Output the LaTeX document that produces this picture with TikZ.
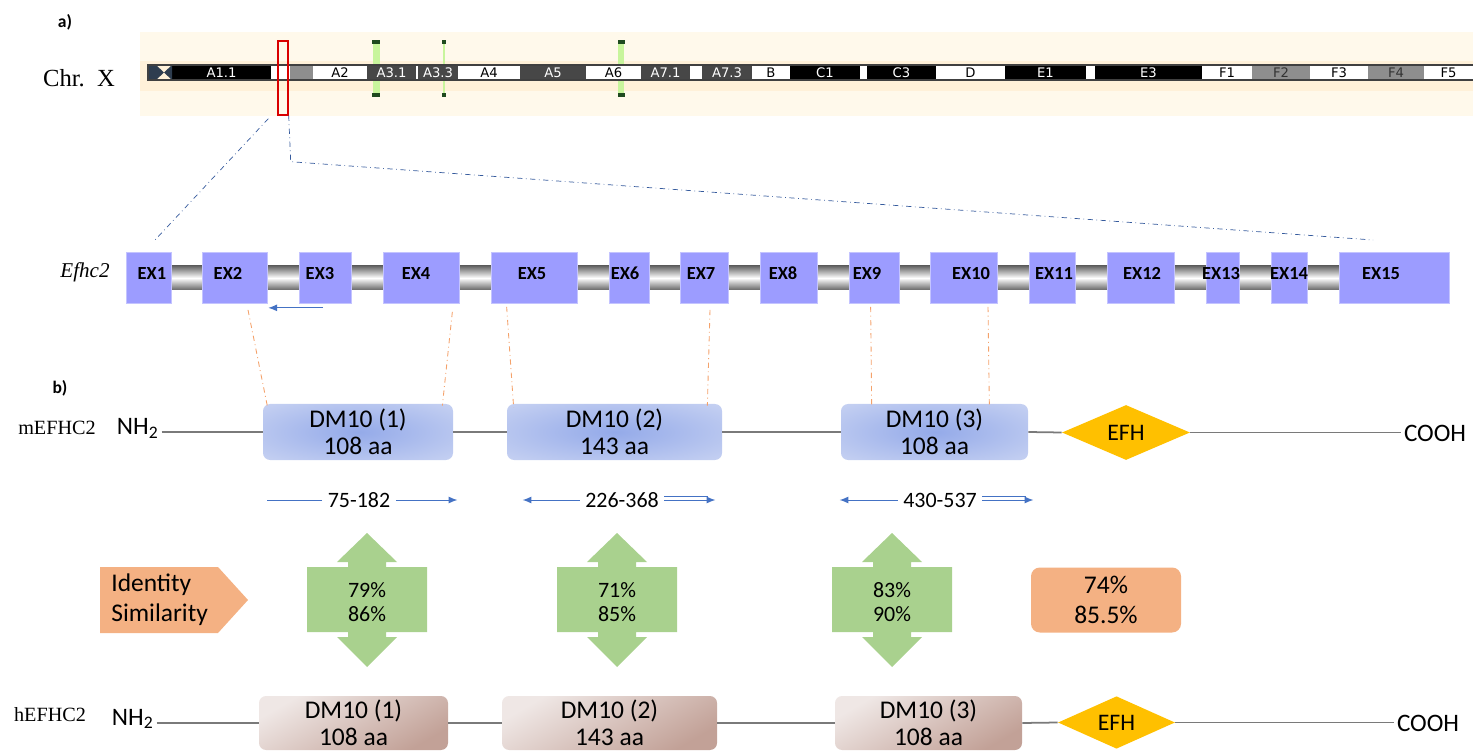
\documentclass[tikz,border=0pt]{standalone}
\usepackage{fontspec}
\setmainfont{Liberation Serif}
\newfontfamily\carl{Carlito}
\newfontfamily\dejav{DejaVu Sans}
\usepackage{tikz}
\usetikzlibrary{arrows.meta,calc,shapes.geometric}

\definecolor{cream}{HTML}{FFF9EB}
\definecolor{creamband}{HTML}{FFF1D9}
\definecolor{banddark}{HTML}{474747}
\definecolor{bandgray}{HTML}{8E8E8E}
\definecolor{cennavy}{HTML}{2E3D4F}
\definecolor{mkgreen}{HTML}{C8F59C}
\definecolor{mkdark}{HTML}{1F4A1F}
\definecolor{exonblue}{HTML}{9C9CFF}
\definecolor{arrblue}{HTML}{4472C4}
\definecolor{linkor}{HTML}{F4A26B}
\definecolor{peach}{HTML}{F4B183}
\definecolor{leaf}{HTML}{A9D18E}
\definecolor{gold}{HTML}{FFC000}
\definecolor{dminner}{HTML}{94AAE9}
\definecolor{dmouter}{HTML}{DDE3F6}
\definecolor{hlight}{HTML}{EFE7E5}
\definecolor{hdark}{HTML}{C2A197}
\definecolor{protgray}{HTML}{7A7A7A}
\pgfdeclareradialshading{dmshade}{\pgfpoint{0bp}{0bp}}{color(0bp)=(dminner); color(52bp)=(dmouter); color(75bp)=(dmouter)}

\begin{document}
\begin{tikzpicture}[x=0.02cm,y=-0.02cm,
  bandlab/.style={font=\dejav\fontsize{7.5}{8}\selectfont,inner sep=0},
  exonbox/.style={fill=exonblue,draw=exonblue!60!white,line width=0.4pt,minimum height=51*0.02cm,inner sep=0},
  exonlab/.style={font=\carl\bfseries\fontsize{10.5}{12}\selectfont,inner sep=0},
  dmbox/.style={rounded corners=4pt,inner sep=0,align=center,font=\carl\fontsize{14.5}{15.3}\selectfont},
  mbox/.style={dmbox,minimum height=56*0.02cm,shade,shading=dmshade},
  hbox/.style={dmbox,minimum height=54*0.02cm,shade,top color=hlight,bottom color=hdark,shading angle=30},
  efh/.style={diamond,fill=gold,inner sep=0,font=\carl\fontsize{13.5}{14}\selectfont},
  protlab/.style={font=\carl\fontsize{14.3}{16}\selectfont,inner sep=1.5pt},
  serlab/.style={font=\fontsize{11.5}{13}\selectfont},
  protline/.style={draw=protgray,line width=1pt},
  rangelab/.style={font=\carl\fontsize{12.5}{14}\selectfont,inner sep=3pt},
  rangearr/.style={draw=arrblue,line width=0.55pt},
  tip/.style={-{Latex[length=5pt,width=4pt]}},
  linkline/.style={draw=linkor,line width=0.5pt,dash dot},
  zoomline/.style={draw=arrblue!80!black,line width=0.4pt,dash dot},
  pctlab/.style={align=center,font=\carl\fontsize{12.5}{13.6}\selectfont}]
\useasboundingbox (0,0) rectangle (1473,756);

% ideogram
\fill[cream] (140,32) rectangle (1473,116);
\fill[creamband] (140,61) rectangle (1473,91);
\node[font=\carl\bfseries\fontsize{10}{12}\selectfont] (pa) at (65,22) {a)};
\node[font=\fontsize{14}{16}\selectfont] (chr) at (79,78) {Chr.\ \ X};
\foreach \mx/\mw in {376/7,444/2.5,621/6}{
  \fill[mkgreen] (\mx-\mw/2,42) rectangle (\mx+\mw/2,95);
  \fill[mkdark] (\mx-\mw/2-0.5,40) rectangle (\mx+\mw/2+0.5,44);
  \fill[mkdark] (\mx-\mw/2-0.5,93) rectangle (\mx+\mw/2+0.5,97);
}
\foreach \a/\b/\c/\t/\tc in {172/271/black/A1.1/white, 271/290/white//black, 290/313/bandgray//black,
  313/367/white/A2/black, 367/416/banddark/A3.1/white, 416/418/white//black, 418/458/banddark/A3.3/white,
  458/520/white/A4/black, 520/586/banddark/A5/white, 586/641/white/A6/black, 641/690/banddark/A7.1/white,
  690/702/white//black, 702/752/banddark/A7.3/white, 752/790/white/B/black, 790/860/black/C1/white,
  860/867/white//black, 867/936/black/C3/white, 936/1005/white/D/black, 1005/1086/black/E1/white,
  1086/1095/white//black, 1095/1202/black/E3/white, 1202/1252/white/F1/black, 1252/1310/bandgray/F2/black!80,
  1310/1368/white/F3/black, 1368/1424/bandgray/F4/black!80, 1424/1473/white/F5/black}{
  \fill[\c] (\a,65) rectangle (\b,80);
  \node[bandlab,text=\tc] (b\a) at ({(\a+\b)/2},72.5) {\t};
}
\fill[cennavy] (148,65) -- (156,65) -- (164,72.5) -- (172,65) -- (172,80) -- (164,72.5) -- (156,80) -- (148,80) -- cycle;
\draw[black!75,line width=0.7pt] (1473,65) -- (148,65) -- (148,80) -- (1473,80);
\node[draw=red!85!black,line width=0.8pt,minimum width=10*0.02cm,minimum height=74*0.02cm,inner sep=0] (sel) at (283,78) {};

% gene
\coordinate (zl) at (155,240);
\coordinate (zr) at (1373,240);
\draw[zoomline] ($(sel.south west)+(-9,3)$) -- (zl);
\draw[zoomline] (sel.south east) -- ++(2,46) -- (zr);
\node[font=\itshape\fontsize{12}{14}\selectfont] (gene) at (85,272) {Efhc2};
\shade[top color=black!60,bottom color=black!60,middle color=white] (130,266) rectangle (1445,290);
\foreach \n/\a/\b/\lx in {1/126/171/152, 2/202/267/228, 3/299/351/320, 4/383/459/416, 5/491/577/532,
  6/609/649/625, 7/680/728/701, 8/760/817/783, 9/849/899/867, 10/930/997/971, 11/1029/1075/1054,
  12/1107/1174/1142, 13/1206/1239/1221, 14/1271/1307/1289, 15/1339/1449/1381}{
  \node[exonbox,minimum width={(\b-\a)*0.02cm}] (ex\n) at ({(\a+\b)/2},278) {};
  \node[exonlab] (exl\n) at (\lx,273.5) {EX\n};
}
\draw[rangearr,tip] ($(ex3.south)+(-2,4)$) -- ($(ex2.south east)+(1,4)$);

% mouse protein
\node[font=\carl\bfseries\fontsize{10}{12}\selectfont] (pb) at (60,388) {b)};
\node[serlab] (mlab) at (57,428) {mEFHC2};
\node[protlab,anchor=base west] (mnh) at (114,435) {NH\textsubscript{2}};
\foreach \n/\cx/\w/\aa in {1/358/190/108, 2/614.5/215/143, 3/934.5/187/108}{
  \node[mbox,minimum width={\w*0.02cm}] (md\n) at (\cx,432) {DM10 (\n)\\\aa\ aa};
}
\node[efh,minimum width=128*0.02cm,minimum height=55*0.02cm] (mefh) at (1126,432.5) {EFH};
\node[protlab,anchor=base west] (mcooh) at (1401,441) {COOH};
\draw[protline] (md1.west -| mnh.east) -- (md1.west);
\draw[protline] (md1.east) -- (md2.west);
\draw[protline] (md2.east) -- (md3.west);
\draw[protline] (md3.east) -- (mefh.west);
\draw[protline] (mefh.east) -- (mefh.east -| mcooh.west);

\draw[linkline] ($(ex2.south)+(13.5,6)$) -- ($(md1.north west)+(5,4)$);
\draw[linkline] ($(ex4.south east)+(-7,8)$) -- ($(md1.north east)+(-11,2)$);
\draw[linkline] ($(ex5.south west)+(16,3)$) -- ($(md2.north west)+(7,4)$);
\draw[linkline] ($(ex7.south)+(6,6)$) -- ($(md2.north east)+(-15,2)$);
\draw[linkline] ($(ex9.south west)+(22,3)$) -- ($(md3.north west)+(31,4)$);
\draw[linkline] ($(ex10.south)+(24.5,3)$) -- ($(md3.north east)+(-39,2)$);

% ranges
\foreach \n/\cx/\t in {1/359/75-182, 2/622/226-368, 3/940/430-537}{
  \node[rangelab] (rng\n) at (\cx,500) {\t};
}
\draw[rangearr] (rng1.west) -- ($(md1.south west |- rng1.west)+(4,0)$);
\draw[rangearr,tip] (rng1.east) -- ($(md1.south east |- rng1.east)+(4,0)$);
\draw[rangearr,tip] (rng2.west) -- ($(md2.south west |- rng2.west)+(16,0)$);
\draw[rangearr,tip] (rng2.east) -- ($(md2.south east |- rng2.east)+(-7,0)$);
\draw[rangearr] ($(rng2.east)+(0,-3.2)$) -- ($(md2.south east |- rng2.east)+(-14,-3.2)$);
\draw[rangearr,tip] (rng3.west) -- ($(md3.south west |- rng3.west)+(-1,0)$);
\draw[rangearr,tip] (rng3.east) -- ($(md3.south east |- rng3.east)+(5,0)$);
\draw[rangearr] ($(rng3.east)+(0,-3.2)$) -- ($(md3.south east |- rng3.east)+(-2,-3.2)$);

% identity / similarity
\fill[peach] (100,567) -- (218,567) -- (248,600) -- (218,633) -- (100,633) -- cycle;
\node[align=left,anchor=west,inner sep=0,font=\carl\fontsize{14.5}{17}\selectfont] (idsim) at (111,600) {Identity\\Similarity};
\foreach \n/\cx/\ip/\sp in {1/367/79/86, 2/617/71/85, 3/892/83/90}{
  \fill[leaf] (\cx-60,567) -- (\cx-19,567) -- (\cx-19,562) -- (\cx-30,562) -- (\cx,533) -- (\cx+30,562)
    -- (\cx+19,562) -- (\cx+19,567) -- (\cx+60,567) -- (\cx+60,632) -- (\cx+19,632) -- (\cx+19,637)
    -- (\cx+30,637) -- (\cx,667) -- (\cx-30,637) -- (\cx-19,637) -- (\cx-19,632) -- (\cx-60,632) -- cycle;
  \node[pctlab] (pct\n) at (\cx,602) {\ip\%\\\sp\%};
}
\node[rounded corners=5pt,fill=peach,minimum width=150*0.02cm,minimum height=65*0.02cm,align=center,
  font=\carl\fontsize{14.5}{17}\selectfont] (tot) at (1106,600) {74\%\\85.5\%};

% human protein
\node[serlab] (hlab) at (50,715) {hEFHC2};
\node[protlab,anchor=base west] (hnh) at (109,725) {NH\textsubscript{2}};
\foreach \n/\cx/\w/\aa in {1/353.5/189/108, 2/609.5/215/143, 3/928.5/187/108}{
  \node[hbox,minimum width={\w*0.02cm}] (hd\n) at (\cx,723) {DM10 (\n)\\\aa\ aa};
}
\node[efh,minimum width=117*0.02cm,minimum height=51*0.02cm] (hefh) at (1116.5,722.5) {EFH};
\node[protlab,anchor=base west] (hcooh) at (1394,731) {COOH};
\draw[protline] (hd1.west -| hnh.east) -- (hd1.west);
\draw[protline] (hd1.east) -- (hd2.west);
\draw[protline] (hd2.east) -- (hd3.west);
\draw[protline] (hd3.east) -- (hefh.west);
\draw[protline] (hefh.east) -- (hefh.east -| hcooh.west);
\end{tikzpicture}
\end{document}
